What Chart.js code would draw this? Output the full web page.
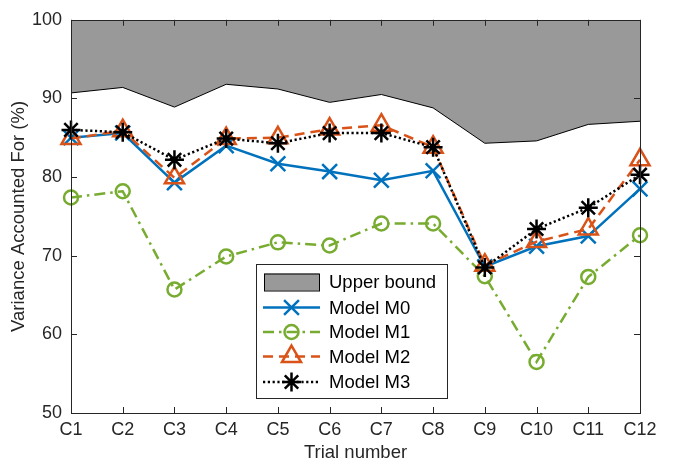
<!DOCTYPE html>
<html>
<head>
<meta charset="utf-8">
<script src="https://cdn.jsdelivr.net/npm/chart.js@4/dist/chart.umd.min.js"></script>
<style>
  html, body { margin: 0; padding: 0; background: #fff; }
  #wrap { width: 674px; height: 464px; }
</style>
</head>
<body>
<div id="wrap"><canvas id="vaf_chart" width="674" height="464"></canvas></div>
<script>
// trials and variance-accounted-for values per model (%)
const trials = ['C1', 'C2', 'C3', 'C4', 'C5', 'C6', 'C7', 'C8', 'C9', 'C10', 'C11', 'C12'];
const upper_bound = [90.7, 91.4, 88.9, 91.8, 91.2, 89.5, 90.5, 88.8, 84.3, 84.6, 86.7, 87.1];
const model_m0 = [85.0, 85.6, 79.3, 84.0, 81.7, 80.7, 79.6, 80.8, 68.6, 71.2, 72.5, 78.5];
const model_m1 = [77.4, 78.2, 65.7, 69.9, 71.7, 71.3, 74.1, 74.1, 67.4, 56.5, 67.3, 72.6];
const model_m2 = [84.9, 85.9, 79.9, 84.9, 85.0, 86.1, 86.6, 83.8, 68.8, 71.8, 73.4, 82.2];
const model_m3 = [86.0, 85.7, 82.2, 84.9, 84.3, 85.6, 85.6, 83.8, 68.5, 73.4, 76.1, 80.3];
const y_ticks = [50, 60, 70, 80, 90, 100];

const FONT = "'Liberation Sans', Arial, sans-serif";
const TEXT_COLOR = '#262626';

function model_set(label, data, color, dash, style, radius, order) {
    return {
        label: label,
        data: data,
        borderColor: color,
        borderWidth: 2.5,
        borderDash: dash,
        borderCapStyle: 'butt',
        pointStyle: style,
        pointRadius: radius,
        pointBorderColor: color,
        pointBackgroundColor: 'rgba(0,0,0,0)',
        pointBorderWidth: 2.5,
        fill: false,
        tension: 0,
        order: order
    };
}

// inward ticks and box outline, drawn on top of the data
const axes_box = {
    id: 'axes_box',
    afterDatasetsDraw(chart) {
        const ctx = chart.ctx;
        const a = chart.chartArea;
        const xs = chart.scales.x, ys = chart.scales.y;
        const len = 6;
        ctx.save();
        ctx.strokeStyle = TEXT_COLOR;
        ctx.lineWidth = 1;
        ctx.beginPath();
        trials.forEach((t, i) => {
            const px = Math.round(xs.getPixelForValue(i)) + 0.5;
            ctx.moveTo(px, a.bottom); ctx.lineTo(px, a.bottom - len);
            ctx.moveTo(px, a.top); ctx.lineTo(px, a.top + len);
        });
        y_ticks.forEach(v => {
            const py = Math.round(ys.getPixelForValue(v)) + 0.5;
            ctx.moveTo(a.left, py); ctx.lineTo(a.left + len, py);
            ctx.moveTo(a.right, py); ctx.lineTo(a.right - len, py);
        });
        ctx.stroke();
        ctx.strokeRect(Math.round(a.left) + 0.5, Math.round(a.top) + 0.5,
                       Math.round(a.right - a.left), Math.round(a.bottom - a.top));
        ctx.restore();
    }
};

// legend box inside the plot, lower middle
const legend_box = {
    id: 'legend_box',
    afterDraw(chart) {
        const ctx = chart.ctx;
        const box = {x: 256, y: 264, w: 191, h: 134};
        const rows = [282, 307.5, 332, 356.5, 382];
        const sx0 = 264, sx1 = 319, tx = 329;
        ctx.save();
        ctx.fillStyle = '#fff';
        ctx.fillRect(box.x, box.y, box.w, box.h);
        ctx.strokeStyle = TEXT_COLOR;
        ctx.lineWidth = 1;
        ctx.strokeRect(box.x + 0.5, box.y + 0.5, box.w, box.h);

        const ds = chart.data.datasets;
        ctx.font = '18.5px ' + FONT;
        ctx.textBaseline = 'middle';
        ctx.textAlign = 'left';
        ds.forEach((d, i) => {
            const cy = rows[i];
            if (d.fill) {
                ctx.fillStyle = d.backgroundColor;
                ctx.fillRect(sx0, cy - 8.5, sx1 - sx0, 17);
                ctx.strokeStyle = '#000';
                ctx.lineWidth = 1;
                ctx.strokeRect(sx0 + 0.5, cy - 8.5 + 0.5, sx1 - sx0, 17);
            } else {
                ctx.strokeStyle = d.borderColor;
                ctx.lineWidth = d.borderWidth;
                ctx.lineCap = 'butt';
                ctx.setLineDash(d.borderDash || []);
                ctx.beginPath();
                ctx.moveTo(sx0 - 1, cy);
                ctx.lineTo(sx1 + 1, cy);
                ctx.stroke();
                ctx.setLineDash([]);
                ctx.fillStyle = 'rgba(0,0,0,0)';
                ctx.lineWidth = d.pointBorderWidth;
                Chart.helpers.drawPoint(ctx, {
                    pointStyle: d.pointStyle,
                    radius: d.pointRadius,
                    rotation: 0,
                    borderWidth: d.pointBorderWidth
                }, (sx0 + sx1) / 2, cy);
            }
            ctx.fillStyle = '#000';
            ctx.fillText(d.label, tx, cy + 1);
        });
        ctx.restore();
    }
};

const config = {
    type: 'line',
    data: {
        labels: trials,
        datasets: [
            {
                label: 'Upper bound',
                data: upper_bound,
                borderColor: '#000',
                borderWidth: 1,
                backgroundColor: '#999999',
                fill: 'end',
                pointRadius: 0,
                tension: 0,
                order: 5
            },
            model_set('Model M0', model_m0, '#0072BD', [], 'crossRot', 10.5, 4),
            model_set('Model M1', model_m1, '#77AC30', [11, 5, 2.5, 5], 'circle', 7, 3),
            model_set('Model M2', model_m2, '#D95319', [10, 6], 'triangle', 11, 2),
            model_set('Model M3', model_m3, '#000000', [2.2, 2.6], 'star', 9.5, 1)
        ]
    },
    options: {
        responsive: false,
        animation: false,
        events: [],
        layout: {
            padding: {top: 17, right: 34, left: 0, bottom: 0}
        },
        plugins: {
            legend: {display: false},
            tooltip: {enabled: false},
            filler: {propagate: false}
        },
        scales: {
            x: {
                type: 'category',
                offset: false,
                grid: {display: false, drawTicks: false},
                border: {display: false},
                ticks: {
                    color: TEXT_COLOR,
                    font: {family: FONT, size: 18},
                    padding: 6,
                    maxRotation: 0,
                    autoSkip: false
                },
                title: {
                    display: true,
                    text: 'Trial number',
                    color: TEXT_COLOR,
                    font: {family: FONT, size: 18.5},
                    padding: {top: 0, bottom: 0}
                },
                afterFit(scale) { scale.height = 51; }
            },
            y: {
                min: 50,
                max: 100,
                grid: {display: false, drawTicks: false},
                border: {display: false},
                afterBuildTicks(scale) {
                    scale.ticks = y_ticks.map(v => ({value: v}));
                },
                ticks: {
                    color: TEXT_COLOR,
                    font: {family: FONT, size: 18},
                    padding: 9
                },
                title: {
                    display: true,
                    text: 'Variance Accounted For (%)',
                    color: TEXT_COLOR,
                    font: {family: FONT, size: 18.5},
                    padding: {top: 8, bottom: 0}
                },
                afterFit(scale) { scale.width = 71; }
            }
        }
    },
    plugins: [axes_box, legend_box]
};

const chart = new Chart(document.getElementById('vaf_chart'), config);
</script>
</body>
</html>
